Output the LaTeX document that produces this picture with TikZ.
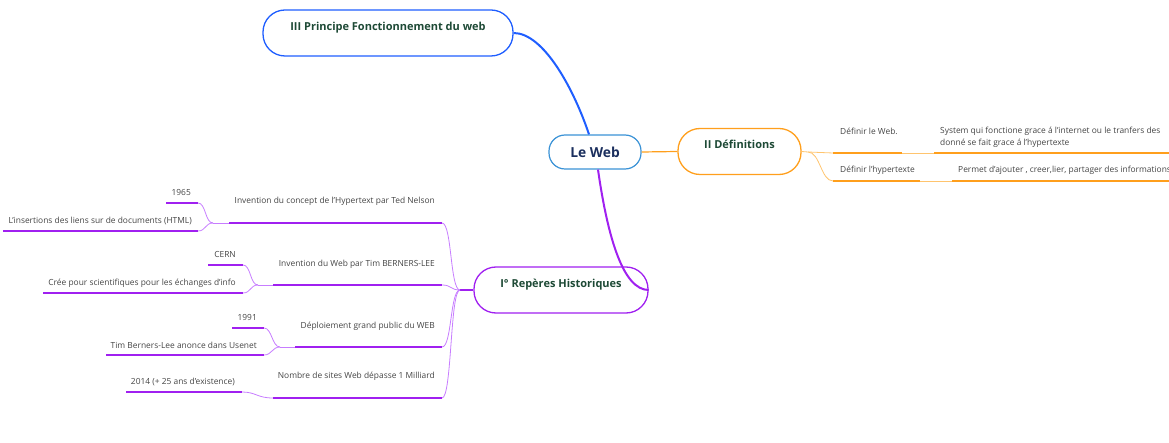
\documentclass[tikz,border=0pt]{standalone}
\usepackage{fontspec}
\setmainfont{Open Sans}
\usepackage{tikz}
\usetikzlibrary{positioning}
\definecolor{princblue}{HTML}{1F5EFF}
\definecolor{rootblue}{HTML}{3A92D6}
\definecolor{rootink}{HTML}{1B2F5E}
\definecolor{deforange}{HTML}{FF9F1C}
\definecolor{defpale}{HTML}{FFC46E}
\definecolor{histpurple}{HTML}{A020F0}
\definecolor{histpale}{HTML}{C77DFF}
\definecolor{topicink}{HTML}{1E4A36}
\definecolor{leafink}{HTML}{454545}

\begin{document}
\begin{tikzpicture}[x=1pt,y=-1pt,
    root/.style={draw=rootblue, line width=1.2pt, rounded corners=16pt, fill=white,
      minimum width=92pt, minimum height=34pt, text=rootink,
      font=\fontsize{13.8}{16}\selectfont\bfseries},
    topic/.style={draw, line width=1.3pt, rounded corners=22pt, fill=white,
      minimum height=46pt, text=topicink, text height=8pt, text depth=13pt,
      font=\fontsize{11}{13}\selectfont\bfseries},
    leaf/.style={inner sep=0pt, text=leafink, font=\fontsize{8.4}{12}\selectfont},
    uorange/.style={draw=deforange, line width=2pt},
    upurple/.style={draw=histpurple, line width=2pt},
    thinorange/.style={draw=defpale, line width=0.8pt},
    thinpurple/.style={draw=histpale, line width=0.8pt}]

      \useasboundingbox (0,0) rectangle (1169,443);

      \node[root] (web) at (595,152) {Le Web};
      \node[topic, draw=princblue, minimum width=250pt] (princ) at (388,33) {III Principe Fonctionnement du web};
      \node[topic, draw=deforange, minimum width=123pt] (defs) at (739.5,151.5) {II Définitions};
      \node[topic, draw=histpurple, minimum width=174pt] (hist) at (561,290) {I° Repères Historiques};

      \draw[line width=2pt, princblue] (princ.east) .. controls +(30,0) and +(-15,-45) .. ([xshift=-6pt]web.north);
      \draw[line width=1.2pt, deforange] (web.east) -- (defs.west);
      \draw[line width=2pt, histpurple] ([xshift=3pt]web.south) .. controls +(10,70) and +(-25,0) .. (hist.east);

      % II
      \coordinate (dfork) at (808,152);
      \coordinate (d1w) at (833,153);  \coordinate (d1e) at (902,153);
      \coordinate (d1bw) at (934,153); \coordinate (d1be) at (1169,153);
      \coordinate (d2w) at (833,181);  \coordinate (d2e) at (920,181);
      \coordinate (d2bw) at (952,181); \coordinate (d2be) at (1169,181);

      \draw[thinorange] (defs.east) -- (dfork);
      \draw[thinorange] (dfork) .. controls +(12,0) and +(-12,0) .. (d1w);
      \draw[thinorange] (dfork) .. controls +(12,0) and +(-12,0) .. (d2w);
      \draw[thinorange] (d1e) -- (d1bw);
      \draw[thinorange] (d2e) -- (d2bw);
      \draw[uorange] (d1w) -- (d1e);
      \draw[uorange] (d1bw) -- (d1be);
      \draw[uorange] (d2w) -- (d2e);
      \draw[uorange] (d2bw) -- (d2be);

      \node[leaf, anchor=west] (d1t) at (840,131) {Définir le Web.};
      \node[leaf, anchor=west, align=left] (d1bt) at (940,137) {System qui fonctione grace á l'internet ou le tranfers des\\donné se fait grace á l'hypertexte};
      \node[leaf, anchor=west] (d2t) at (840,170) {Définir l'hypertexte};
      \node[leaf, anchor=west] (d2bt) at (958,170) {Permet d'ajouter , creer,lier, partager des informations};

      % I
      \coordinate (hfork) at (460,290);
      \coordinate (h1w) at (229,223); \coordinate (h1e) at (442,223);
      \coordinate (h2w) at (273,285); \coordinate (h2e) at (442,285);
      \coordinate (h3w) at (295,347); \coordinate (h3e) at (442,347);
      \coordinate (h4w) at (273,398); \coordinate (h4e) at (442,398);

      \coordinate (f1) at (213,223);
      \coordinate (h1aw) at (166,203); \coordinate (h1ae) at (198,203);
      \coordinate (h1bw) at (3,231);   \coordinate (h1be) at (198,231);
      \coordinate (f2) at (258,285);
      \coordinate (h2aw) at (208,265); \coordinate (h2ae) at (243,265);
      \coordinate (h2bw) at (43,293);  \coordinate (h2be) at (243,293);
      \coordinate (f3) at (280,347);
      \coordinate (h3aw) at (232,328); \coordinate (h3ae) at (264,328);
      \coordinate (h3bw) at (106,355); \coordinate (h3be) at (264,355);
      \coordinate (h4aw) at (126,392); \coordinate (h4ae) at (242,392);

      \draw[line width=2pt, histpurple] (hist.west) -- (hfork);
      \foreach \h in {h1e,h2e,h3e,h4e}
        \draw[thinpurple] (hfork) .. controls +(-10,0) and +(10,0) .. (\h);

      \draw[thinpurple] (h1w) -- (f1);
      \draw[thinpurple] (f1) .. controls +(-8,0) and +(8,0) .. (h1ae);
      \draw[thinpurple] (f1) .. controls +(-8,0) and +(8,0) .. (h1be);
      \draw[thinpurple] (h2w) -- (f2);
      \draw[thinpurple] (f2) .. controls +(-8,0) and +(8,0) .. (h2ae);
      \draw[thinpurple] (f2) .. controls +(-8,0) and +(8,0) .. (h2be);
      \draw[thinpurple] (h3w) -- (f3);
      \draw[thinpurple] (f3) .. controls +(-8,0) and +(8,0) .. (h3ae);
      \draw[thinpurple] (f3) .. controls +(-8,0) and +(8,0) .. (h3be);
      \draw[thinpurple] (h4w) .. controls +(-16,0) and +(14,0) .. (h4ae);

      \draw[upurple] (h1w) -- (h1e);
      \draw[upurple] (h2w) -- (h2e);
      \draw[upurple] (h3w) -- (h3e);
      \draw[upurple] (h4w) -- (h4e);
      \draw[upurple] (h1aw) -- (h1ae);
      \draw[upurple] (h1bw) -- (h1be);
      \draw[upurple] (h2aw) -- (h2ae);
      \draw[upurple] (h2bw) -- (h2be);
      \draw[upurple] (h3aw) -- (h3ae);
      \draw[upurple] (h3bw) -- (h3be);
      \draw[upurple] (h4aw) -- (h4ae);

      \node[leaf, anchor=east] (h1t) at (435,201) {Invention du concept de l'Hypertext par Ted Nelson};
      \node[leaf, anchor=east] (h2t) at (435,264) {Invention du Web par Tim BERNERS-LEE};
      \node[leaf, anchor=east] (h3t) at (435,326) {Déploiement grand public du WEB};
      \node[leaf, anchor=east] (h4t) at (435,376) {Nombre de sites Web dépasse 1 Milliard};
      \node[leaf, anchor=east] (h1at) at (191,193) {1965};
      \node[leaf, anchor=east] (h1bt) at (192,221) {L'insertions des liens sur de documents (HTML)};
      \node[leaf, anchor=east] (h2at) at (236,255) {CERN};
      \node[leaf, anchor=east] (h2bt) at (236,283) {Crée pour scientifiques pour les échanges d'info};
      \node[leaf, anchor=east] (h3at) at (257,318) {1991};
      \node[leaf, anchor=east] (h3bt) at (257,345) {Tim Berners-Lee anonce dans Usenet};
      \node[leaf, anchor=east] (h4at) at (235,382) {2014 (+ 25 ans d'existence)};
    \end{tikzpicture}
\end{document}
